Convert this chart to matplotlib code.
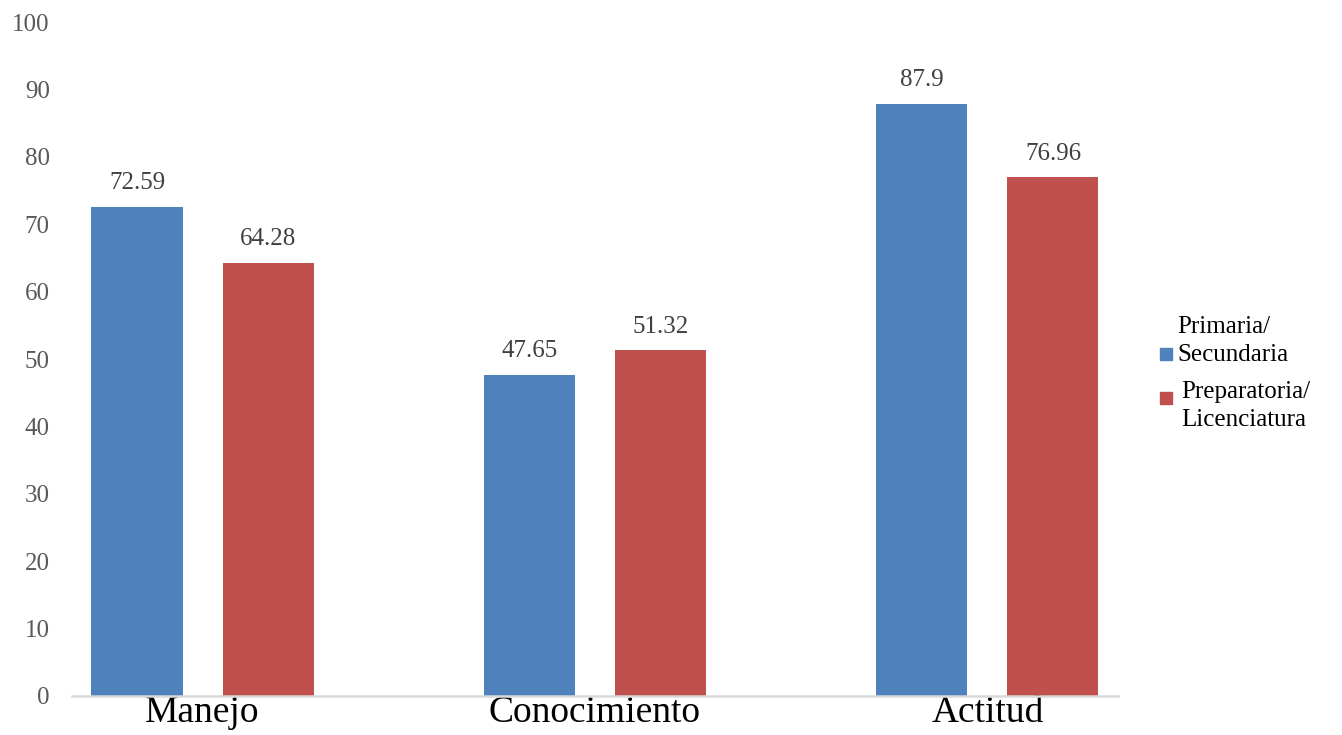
import numpy as np
import matplotlib
matplotlib.use("Agg")
import matplotlib.pyplot as plt
from matplotlib.patches import Rectangle

categories = ["Manejo", "Conocimiento", "Actitud"]
series_names = ["Primaria/\nSecundaria", "Preparatoria/\nLicenciatura"]
primaria = [72.59, 47.65, 87.9]
preparatoria = [64.28, 51.32, 76.96]
colors = ["#4F81BD", "#C0504D"]
yticks = [0, 10, 20, 30, 40, 50, 60, 70, 80, 90, 100]

plt.rcParams["font.family"] = ["Liberation Serif", "DejaVu Serif"]

fig = plt.figure(figsize=(13.42, 7.35), dpi=100)
ax = fig.add_axes([0.0537, 0.0531, 0.7793, 0.9169])

x = np.arange(len(categories))
w = 0.232
off = 0.167
b1 = ax.bar(x - off, primaria, w, color=colors[0], label=series_names[0])
b2 = ax.bar(x + off, preparatoria, w, color=colors[1], label=series_names[1])

for bars, vals in ((b1, primaria), (b2, preparatoria)):
    for r, v in zip(bars, vals):
        ax.annotate(f"{v:g}", (r.get_x() + r.get_width() / 2, v),
                    xytext=(0, 17), textcoords="offset points",
                    ha="center", va="center", fontsize=18, color="#404040")

ax.set_xlim(-0.3325, 2.3325)
ax.set_ylim(0, 100)
ax.set_yticks(yticks)
ax.set_xticks(x)
ax.set_xticklabels(categories, fontsize=27, color="black")
ax.tick_params(axis="x", length=0, pad=0)
ax.tick_params(axis="y", length=0, pad=16, labelsize=18, labelcolor="#595959")

for s in ("top", "right", "left"):
    ax.spines[s].set_visible(False)
ax.spines["bottom"].set_color("#D9D9D9")
ax.spines["bottom"].set_linewidth(1.8)

# legend drawn by hand: Excel puts the first marker beside the second line
W, H = fig.get_size_inches() * fig.dpi
def fx(px): return px / W
def fy(py): return 1 - py / H

fig.patches.append(Rectangle((fx(1160), fy(360)), fx(12), 12 / H,
                             transform=fig.transFigure, color=colors[0]))
fig.text(fx(1177), fy(341), series_names[0], fontsize=18, va="center",
         ha="left", linespacing=1.3)
fig.patches.append(Rectangle((fx(1160), fy(404)), fx(12), 12 / H,
                             transform=fig.transFigure, color=colors[1]))
fig.text(fx(1181), fy(406), series_names[1], fontsize=18, va="center",
         ha="left", linespacing=1.3)

fig.savefig("out.png", dpi=100)
